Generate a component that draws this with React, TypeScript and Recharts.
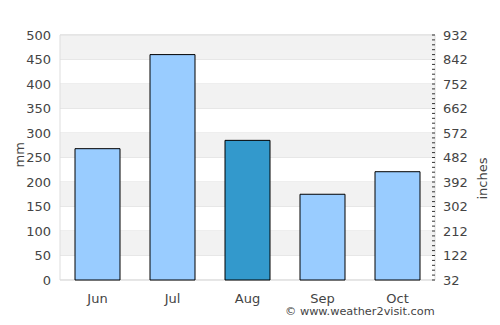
import { BarChart, Bar, XAxis, YAxis, CartesianGrid, ReferenceArea, Cell } from "recharts";

const months = ["Jun", "Jul", "Aug", "Sep", "Oct"];
const rainfall = [268, 460, 285, 175, 221];
const highlightMonth = "Aug";
const mmTicks = [0, 50, 100, 150, 200, 250, 300, 350, 400, 450, 500];
const inchTicks = [32, 122, 212, 302, 392, 482, 572, 662, 752, 842, 932];

const data = months.map((m, i) => ({ month: m, rain: rainfall[i] }));

// shaded bands every other 50mm step, starting from the top
const bands = mmTicks.slice(0, -1).filter((_, i) => i % 2 === 1).map((t) => [t, t + 50]);

// minor ticks on the right axis: every 10mm equivalent
const minorTicks: number[] = [];
for (let v = 32; v <= 932; v += 18) minorTicks.push(v);

const font = "DejaVu Sans, sans-serif";
const textColor = "#444";

function renderRightTick(props: any) {
  const { x, y, payload } = props;
  const major = inchTicks.includes(payload.value);
  return (
    <g key={"t" + payload.value}>
      <line x1={x - 3} x2={x} y1={y} y2={y} stroke="#333" />
      {major && (
        <text x={x + 8} y={y} dy={4.5} fill={textColor} fontSize={13} fontFamily={font}>
          {payload.value}
        </text>
      )}
    </g>
  );
}

export default function App() {
  return (
    <div style={{ position: "absolute", left: 0, top: 0, width: 500, height: 325, background: "#fff" }}>
      <BarChart
        width={500}
        height={325}
        data={data}
        margin={{ top: 35, right: 0, bottom: 15, left: 0 }}
        barCategoryGap="20%"
      >
        {bands.map(([a, b]) => (
          <ReferenceArea key={a} yAxisId="mm" y1={a} y2={b} fill="#f2f2f2" fillOpacity={1} stroke="none" />
        ))}
        <CartesianGrid yAxisId="mm" vertical={false} stroke="#dddddd" />
        <ReferenceArea yAxisId="mm" y1={0} y2={500} fill="none" stroke="#dddddd" />
        <XAxis
          dataKey="month"
          axisLine={false}
          tickLine={false}
          height={30}
          tickMargin={8}
          tick={{ fill: textColor, fontSize: 13, fontFamily: font }}
        />
        <YAxis
          yAxisId="mm"
          domain={[0, 500]}
          ticks={mmTicks}
          width={60}
          axisLine={false}
          tickLine={false}
          tickMargin={3}
          tick={{ fill: textColor, fontSize: 13, fontFamily: font }}
          label={{ value: "mm", angle: -90, position: "insideLeft", offset: 19, dy: 10, fill: textColor, fontSize: 13, fontFamily: font }}
        />
        <YAxis
          yAxisId="in"
          orientation="right"
          type="number"
          domain={[32, 932]}
          allowDataOverflow
          ticks={minorTicks}
          interval={0}
          width={65}
          axisLine={false}
          tickLine={false}
          tickSize={0}
          tickMargin={0}
          tick={renderRightTick}
          label={{ value: "inches", angle: -90, position: "insideRight", offset: 18, dy: 0, fill: textColor, fontSize: 13, fontFamily: font }}
        />
        <Bar yAxisId="mm" dataKey="rain" stroke="#000" strokeWidth={1} isAnimationActive={false}>
          {data.map((d) => (
            <Cell key={d.month} fill={d.month === highlightMonth ? "#3399cc" : "#99ccff"} />
          ))}
        </Bar>
      </BarChart>
      <div
        style={{
          position: "absolute",
          left: 285,
          top: 305,
          fontFamily: font,
          fontSize: 11.3,
          color: textColor,
          whiteSpace: "nowrap",
        }}
      >
        © www.weather2visit.com
      </div>
    </div>
  );
}
